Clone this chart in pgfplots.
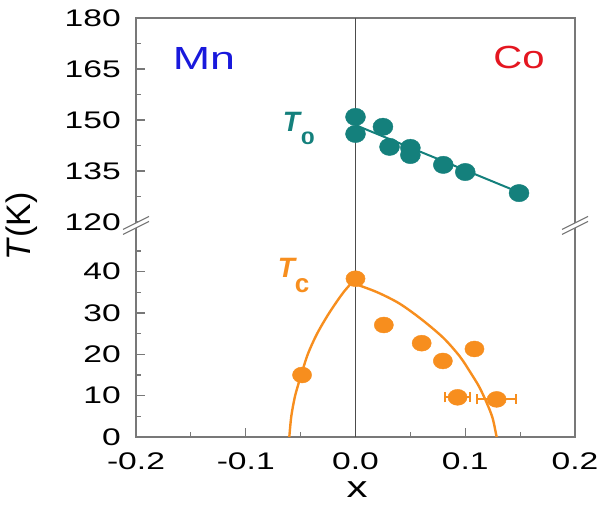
\documentclass[border=0pt]{standalone}
\usepackage{fontspec}
\setmainfont{Liberation Sans}
\newfontfamily\widefont[FakeStretch=1.4]{Liberation Sans}
\newfontfamily\midfont[FakeStretch=1.25]{Liberation Sans}
\usepackage{pgfplots}
\pgfplotsset{compat=1.18}
\definecolor{tealc}{RGB}{20,128,124}
\definecolor{orangec}{RGB}{247,142,30}
\definecolor{mnblue}{RGB}{25,25,220}
\definecolor{cored}{RGB}{228,22,32}
\definecolor{framegray}{RGB}{120,120,120}
\begin{document}
\begin{tikzpicture}
\useasboundingbox (-136pt,-68pt) rectangle (465pt,437pt);
\pgfplotsset{
 brk/.style={
  scale only axis, width=439pt, xmin=-0.2, xmax=0.2,
  clip=false, separate axis lines,
  axis line style={draw=none},
  every outer x axis line/.append style={draw=none},
  every outer y axis line/.append style={draw=none},
  tick align=inside, ytick pos=left, xtick pos=bottom,
  major tick length=9pt, minor tick length=5pt,
  tick style={framegray, line width=1.1pt},
  /pgf/number format/assume math mode=true,
  ticklabel style={font=\fontsize{24}{24}\selectfont\widefont},
  yticklabel style={anchor=east, inner sep=0pt, xshift=-15pt},
  xticklabel style={anchor=north, inner sep=0pt, yshift=-16pt},
 }
}
% lower axis
\begin{axis}[brk, at={(0pt,0pt)}, anchor=south west, height=211.6pt,
  ymin=0, ymax=51.2,
  ytick={0,10,20,30,40}, minor ytick={5,15,25,35,45},
  xtick={-0.2,-0.1,0,0.1,0.2}, minor xtick={-0.15,-0.05,0.05,0.15},
  xticklabels={-0.2,-0.1,0.0,0.1,0.2}]
 \draw[framegray, line width=1.3pt] (rel axis cs:0,1) -- (rel axis cs:0,0) -- (rel axis cs:1,0) -- (rel axis cs:1,1);
 \draw[black!70, line width=1pt] (axis cs:0,0) -- (axis cs:0,51.2);
 \addplot[orangec, line width=2.4pt, smooth] coordinates {
  (-0.0603,0) (-0.0585,5) (-0.0550,10) (-0.0495,15) (-0.0435,20) (-0.035,25) (-0.024,30) (-0.011,35) (0,38.3)};
 \addplot[orangec, line width=2.4pt, smooth] coordinates {
  (0,37) (0.02,35) (0.04,32.3) (0.06,28.5) (0.08,24) (0.095,19.5) (0.105,15.5) (0.113,12) (0.12,8) (0.125,4.5) (0.1286,0)};
 \addplot[only marks, mark=*, mark size=8pt, orangec, mark options={xscale=1.2},
   error bars/.cd, x dir=both, x explicit, error mark=none,
   error bar style={line width=2.5pt, orangec}] coordinates {
  (-0.0487,15.0) +- (0.004,0)
  (0,38.3) +- (0.004,0)
  (0.0258,27.1) +- (0.007,0)
  (0.0603,22.7) +- (0.007,0)
  (0.0796,18.4) +- (0.007,0)
  (0.1084,21.3) +- (0.007,0)};
 \addplot[only marks, mark=*, mark size=8pt, orangec, mark options={xscale=1.2},
   error bars/.cd, x dir=both, x explicit,
   error bar style={line width=2pt, orangec},
   error mark options={rotate=90, orangec, mark size=5pt, line width=2pt}] coordinates {
  (0.093,9.6) +- (0.0115,0)
  (0.1286,9.1) +- (0.0178,0)};
 \node[anchor=base west, orangec, inner sep=0pt] at (axis cs:-0.071,38.7)
  {\fontsize{28}{28}\selectfont\bfseries\itshape T\raisebox{-15pt}{\fontsize{26}{26}\selectfont\upshape\bfseries c}};
\end{axis}
% upper axis
\begin{axis}[brk, at={(0pt,211.6pt)}, anchor=south west, height=207.4pt,
  ymin=119, ymax=180,
  ytick={120,135,150,165,180}, minor ytick={127.5,142.5,157.5,172.5},
  xtick=\empty]
 \draw[framegray, line width=1.3pt] (rel axis cs:0,0) -- (rel axis cs:0,1) -- (rel axis cs:1,1) -- (rel axis cs:1,0);
 \draw[black!70, line width=1pt] (axis cs:0,119) -- (axis cs:0,180);
 \addplot[tealc, line width=2pt] coordinates {(0,148.5) (0.15,128.6)};
 \addplot[only marks, mark=*, mark size=8.7pt, tealc, mark options={xscale=1.15}] coordinates {
  (0,150.9) (0,145.9) (0.025,148.0) (0.031,142.1) (0.05,141.8) (0.05,139.7)
  (0.080,136.8) (0.100,134.7) (0.149,128.5)};
 \node[anchor=base west, tealc, inner sep=0pt] at (axis cs:-0.0664,146.5)
  {\fontsize{28}{28}\selectfont\bfseries\itshape T\kern1pt\raisebox{-13pt}{\fontsize{18}{18}\selectfont\widefont\upshape\bfseries 0}};
 \node[anchor=base, mnblue, inner sep=0pt] at (axis cs:-0.138,164.8)
  {\fontsize{32}{32}\selectfont\widefont Mn};
 \node[anchor=base, cored, inner sep=0pt] at (axis cs:0.149,165.2)
  {\fontsize{32}{32}\selectfont\midfont Co};
\end{axis}
% axis labels
\node[rotate=90, inner sep=0pt] at (-114pt,210.5pt) {\fontsize{34}{34}\selectfont\textit{T}(K)};
\node[inner sep=0pt] at (221pt,-53pt) {\fontsize{30}{30}\selectfont\widefont x};
% axis break marks
\foreach \cx in {0,439} {
 \fill[white] (\cx pt-13pt,202.6pt) -- (\cx pt+13pt,215.6pt) -- (\cx pt+13pt,220.6pt) -- (\cx pt-13pt,207.6pt) -- cycle;
 \draw[framegray, line width=1.1pt] (\cx pt-13pt,202.6pt) -- (\cx pt+13pt,215.6pt);
 \draw[framegray, line width=1.1pt] (\cx pt-13pt,207.6pt) -- (\cx pt+13pt,220.6pt);
}
\end{tikzpicture}
\end{document}
